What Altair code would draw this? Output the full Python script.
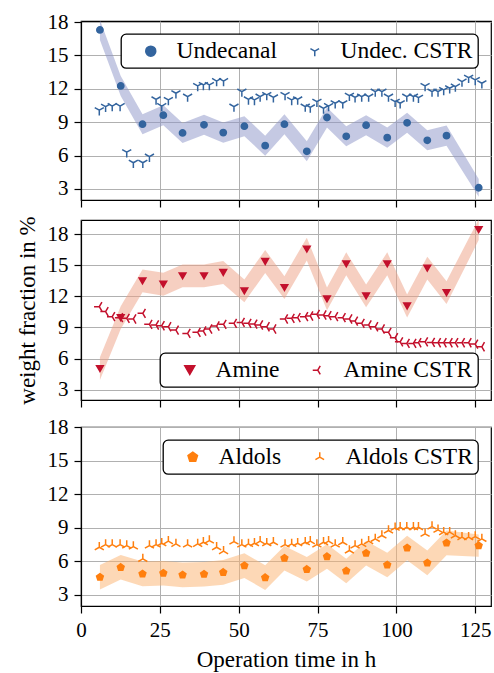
import altair as alt
import pandas as pd

FONT = "Liberation Serif"

# ---- data ----
PT_T = [6.0, 12.6, 19.5, 26.1, 32.2, 39.0, 45.1, 51.8, 58.4, 64.5, 71.6, 78.0,
        84.1, 90.4, 97.1, 103.4, 109.8, 115.9, 126.1]
UNDEC = [17.3, 12.26, 8.82, 9.63, 8.03, 8.76, 8.06, 8.64, 6.89, 8.82, 6.38, 9.42,
         7.73, 8.73, 7.61, 8.94, 7.37, 7.79, 3.1]
AMINE = [5.03, 9.94, 13.48, 13.16, 13.97, 13.97, 14.29, 12.52, 15.35, 12.84, 16.55,
         11.74, 15.13, 12.03, 15.13, 11.06, 14.71, 12.35, 18.42]
ALDOL = [4.57, 5.46, 4.87, 4.93, 4.78, 4.84, 5.01, 5.61, 4.54, 6.27, 5.28, 6.42,
         5.13, 6.72, 5.67, 7.19, 5.85, 7.64, 7.4]
UNDEC_ERR = [0.9, 0.9, 0.9, 0.9, 0.9, 0.9, 0.9, 0.9, 0.9, 0.9, 0.9, 0.9,
             0.9, 0.9, 0.9, 0.9, 0.9, 0.9, 0.8]
AMINE_ERR = [1.1, 1.1, 1.1, 1.1, 1.1, 1.1, 1.1, 1.1, 1.1, 1.1, 1.1, 1.1,
             1.1, 1.1, 1.1, 1.1, 1.1, 1.1, 1.0]
ALDOL_ERR = [1.1, 1.1, 1.1, 1.1, 1.1, 1.1, 1.1, 1.1, 1.1, 1.1, 1.1, 1.1,
             1.1, 1.1, 1.1, 1.1, 1.1, 1.1, 1.0]

CSTR_T = [5.8, 7.8, 9.9, 12.4, 14.5, 16.6, 19.6, 21.7, 23.8, 25.6, 27.7, 30.1,
          33.8, 37.0, 38.8, 40.7, 43.0, 45.2, 48.5, 51.0, 53.1, 55.0, 56.8, 58.9,
          61.0, 64.7, 66.8, 68.7, 71.1, 72.7, 74.8, 76.9, 78.5, 80.6, 83.0, 85.1,
          86.9, 89.0, 91.2, 93.3, 95.4, 97.5, 99.6, 101.2, 103.3, 105.4, 107.0,
          109.1, 111.3, 113.2, 115.0, 116.9, 118.7, 120.8, 122.9, 125.0, 127.1]
UNDEC_CSTR = [10.08, 10.39, 10.45, 10.45, 6.3, 5.35, 5.35, 5.9, 11.05, 10.45,
              11.0, 11.6, 11.3, 12.26, 12.35, 12.35, 12.7, 12.7, 10.4, 11.75,
              11.05, 11.0, 11.3, 11.45, 11.23, 11.45, 11.0, 11.05, 10.4, 10.33,
              10.84, 10.24, 10.45, 10.7, 10.7, 11.38, 11.23, 11.3, 11.3, 11.75,
              11.75, 11.3, 10.84, 10.7, 11.3, 11.3, 11.2, 12.26, 11.75, 11.75,
              11.9, 12.05, 12.2, 12.65, 13.0, 12.8, 12.5]
AMINE_CSTR = [11.0, 10.52, 10.03, 9.94, 9.87, 9.81, 10.35, 9.29, 9.23, 9.16,
              9.06, 8.74, 8.42, 8.52, 8.65, 8.84, 9.13, 9.29, 9.39, 9.48,
              9.39, 9.32, 9.23, 9.06, 8.84, 9.81, 9.87, 9.94, 10.03, 10.1,
              10.26, 10.19, 10.13, 10.03, 9.94, 9.81, 9.61, 9.39, 9.23, 9.06,
              8.84, 8.52, 8.0, 7.61, 7.45, 7.45, 7.52, 7.61, 7.55, 7.52,
              7.52, 7.52, 7.52, 7.52, 7.52, 7.39, 7.13]
ALDOL_CSTR = [7.25, 7.49, 7.49, 7.49, 7.4, 7.31, 6.21, 7.4, 7.49, 7.61,
              7.79, 7.55, 7.49, 7.55, 7.7, 7.85, 7.25, 6.9, 7.76, 7.49,
              7.55, 7.61, 7.79, 7.61, 7.7, 7.49, 7.55, 7.61, 7.7, 7.79,
              7.49, 7.7, 7.79, 7.49, 7.7, 6.96, 7.4, 7.55, 7.79, 8.0,
              8.3, 8.75, 8.99, 9.04, 9.04, 9.04, 9.04, 8.45, 9.1, 8.81,
              8.6, 8.6, 8.3, 8.15, 8.15, 8.21, 8.0]

X_TICKS = [0, 25, 50, 75, 100, 125]
Y_TICKS = [3, 6, 9, 12, 15, 18]

TRI_DOWN = "M0,0L0,1M0,0L-0.866,-0.5M0,0L0.866,-0.5"
TRI_LEFT = "M0,0L-1,0M0,0L0.5,-0.866M0,0L0.5,0.866"
TRI_UP = "M0,0L0,-1M0,0L-0.866,0.5M0,0L0.866,0.5"
PENTAGON = "M0,-1L0.951,-0.309L0.588,0.809L-0.588,0.809L-0.951,-0.309Z"


def panel(pt_name, pt_vals, pt_err, cstr_name, cstr_vals, color, band_color,
          pt_shape, pt_size, cstr_shape, ydom, height, legend_orient,
          ytitle, bottom):
    pts = pd.DataFrame({
        "t": PT_T, "v": pt_vals,
        "lo": [v - e for v, e in zip(pt_vals, pt_err)],
        "hi": [v + e for v, e in zip(pt_vals, pt_err)],
        "series": pt_name,
    })
    cstr = pd.DataFrame({"t": CSTR_T, "v": cstr_vals, "series": cstr_name})

    common = dict(labelFont=FONT, labelFontSize=21, labelColor="black",
                  titleFont=FONT, titleFontSize=23, titleFontWeight="normal",
                  titleColor="black", labelFlush=False)
    if bottom:
        xaxis = alt.Axis(values=X_TICKS, grid=True, title="Operation time in h",
                         **common)
    else:
        xaxis = alt.Axis(values=X_TICKS, labels=False, grid=True, title=None,
                         **common)
    x = alt.X("t:Q", scale=alt.Scale(domain=[0, 130], nice=False, zero=False),
              axis=xaxis)
    yscale = alt.Scale(domain=ydom, nice=False, zero=False)
    if ytitle:
        yaxis = alt.Axis(values=Y_TICKS, title=ytitle, **common)
    else:
        yaxis = alt.Axis(values=Y_TICKS, title=None, **common)

    dom = [pt_name, cstr_name]
    shape_scale = alt.Scale(domain=dom, range=[pt_shape, cstr_shape])
    col_scale = alt.Scale(domain=dom, range=[color, color])
    legend = alt.Legend(
        title=None, orient=legend_orient, offset=13, direction="horizontal",
        columns=2, fillColor="white", strokeColor="black", cornerRadius=5,
        padding=5, labelFont=FONT, labelFontSize=23.5, labelColor="black",
        symbolSize=100, symbolStrokeWidth=1.5, symbolOffset=13, labelOffset=14,
        columnPadding=13, labelLimit=300,
    )
    enc = dict(
        shape=alt.Shape("series:N", scale=shape_scale, legend=legend),
        fill=alt.Fill("series:N", scale=col_scale, legend=legend),
        stroke=alt.Stroke("series:N", scale=col_scale, legend=legend),
    )

    band = alt.Chart(pts).mark_area(color=band_color, opacity=0.5, clip=True).encode(
        x=x, y=alt.Y("lo:Q", scale=yscale, axis=yaxis), y2="hi:Q")
    dots = alt.Chart(pts).mark_point(filled=True, strokeWidth=1.5, size=pt_size,
                                     opacity=1, clip=True).encode(
        x=x, y=alt.Y("v:Q", scale=yscale, axis=yaxis), **enc)
    tris = alt.Chart(cstr).mark_point(filled=True, size=110, strokeWidth=1.5,
                                      opacity=1, clip=True).encode(
        x=x, y=alt.Y("v:Q", scale=yscale, axis=yaxis), **enc)
    return alt.layer(band, dots, tris).properties(width=410, height=height)


p1 = panel("Undecanal", UNDEC, UNDEC_ERR, "Undec. CSTR", UNDEC_CSTR,
           "#33649e", "#8c93c8", "circle", 40, TRI_DOWN, [2, 18.1], 179,
           "top-right", None, False)
p2 = panel("Amine", AMINE, AMINE_ERR, "Amine CSTR", AMINE_CSTR,
           "#c3102c", "#ed9f83", "triangle-down", 45, TRI_LEFT, [2, 19.35], 180,
           "bottom-right", "weight fraction in %", False)
p3 = panel("Aldols", ALDOL, ALDOL_ERR, "Aldols CSTR", ALDOL_CSTR,
           "#ff7f0e", "#fbb16d", PENTAGON, 50, TRI_UP, [2, 18], 179,
           "top-right", None, True)

chart = alt.vconcat(p1, p2, p3, spacing=6).resolve_scale(
    shape="independent", fill="independent", stroke="independent",
    y="independent", x="independent"
).resolve_legend(
    shape="independent", fill="independent", stroke="independent"
).properties(
    padding={"left": 15, "top": 10, "right": 2, "bottom": 0}
).configure(
    font=FONT,
).configure_view(
    stroke="black", strokeWidth=1.2
).configure_axis(
    labelFont=FONT, titleFont=FONT,
    tickColor="black", tickSize=7, tickWidth=1.2,
    domainColor="black", domainWidth=1.2,
    gridColor="#b0b0b0", gridWidth=1, labelPadding=6,
    titlePadding=8,
).configure_legend(
    strokeWidth=1.3
)

chart.save("out.html", embed_options={"renderer": "svg", "actions": False})
